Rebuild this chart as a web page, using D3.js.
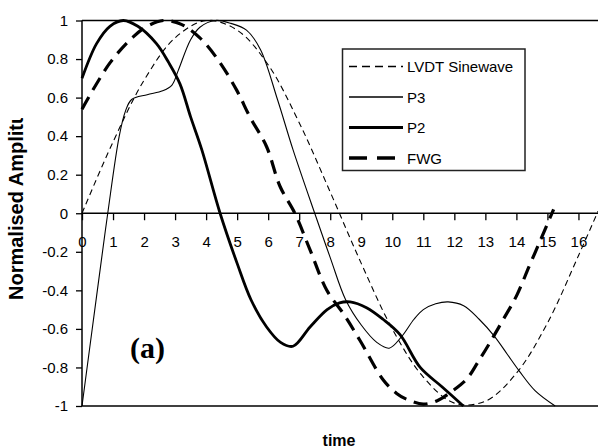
<!DOCTYPE html>
<html>
<head>
<meta charset="utf-8">
<script src="https://cdn.jsdelivr.net/npm/d3@7"></script>
<style>
  body { margin: 0; background: #fff; }
  svg { display: block; font-family: "Liberation Sans", Arial, sans-serif; }
</style>
</head>
<body>
<div id="chart"></div>
<script>
// values
var xTicks = [0, 1, 2, 3, 4, 5, 6, 7, 8, 9, 10, 11, 12, 13, 14, 15, 16];
var yTicks = [-1, -0.8, -0.6, -0.4, -0.2, 0, 0.2, 0.4, 0.6, 0.8, 1];
var seriesNames = ["LVDT Sinewave", "P3", "P2", "FWG"];

var lvdtTime = [0, 1, 2, 3, 4, 5, 6, 7, 8, 9, 10, 11, 12, 13, 14, 15, 16, 16.63];
var lvdtValue = [0, 0.37, 0.69, 0.91, 1.0, 0.95, 0.77, 0.47, 0.11, -0.26, -0.6, -0.85, -0.985, -0.975, -0.83, -0.57, -0.22, 0.01];

var p3Time = [0, 0.47, 0.83, 1.2, 1.4, 1.6, 2.1, 2.6, 2.9, 3.1, 3.5, 3.8, 4.3, 4.8, 5.3, 5.75, 6.3, 6.8, 7.5, 8.0, 8.5, 9.0, 9.5, 9.9, 10.3, 10.7, 11.0, 11.4, 11.8, 12.3, 12.8, 13.3, 13.7, 14.1, 14.6, 15.25];
var p3Value = [-1, -0.43, 0, 0.4, 0.53, 0.59, 0.615, 0.635, 0.665, 0.74, 0.9, 0.965, 1.0, 0.985, 0.95, 0.85, 0.59, 0.33, 0, -0.23, -0.45, -0.58, -0.67, -0.7, -0.64, -0.55, -0.5, -0.47, -0.46, -0.48, -0.55, -0.64, -0.73, -0.82, -0.92, -1.0];

var p2Time = [0, 0.47, 0.9, 1.33, 1.8, 2.4, 2.8, 3.16, 3.5, 3.86, 4.45, 5.0, 5.45, 5.95, 6.4, 6.8, 7.35, 7.9, 8.3, 8.64, 9.17, 9.7, 10.25, 10.9, 11.6, 12.29];
var p2Value = [0.7, 0.88, 0.97, 1.0, 0.97, 0.88, 0.78, 0.67, 0.5, 0.33, 0, -0.26, -0.45, -0.59, -0.67, -0.69, -0.59, -0.5, -0.465, -0.46, -0.49, -0.55, -0.63, -0.8, -0.9, -1.0];

var fwgTime = [0, 0.9, 1.65, 2.1, 2.62, 3.2, 3.8, 4.39, 4.98, 5.41, 5.95, 6.38, 6.86, 7.35, 7.89, 8.42, 8.96, 9.71, 10.14, 10.46, 11.0, 11.48, 11.91, 12.4, 12.77, 13.15, 13.58, 14.0, 14.4, 14.8, 15.2];
var fwgValue = [0.54, 0.78, 0.915, 0.97, 1.0, 0.98, 0.91, 0.795, 0.64, 0.5, 0.345, 0.14, 0, -0.19, -0.4, -0.52, -0.66, -0.865, -0.935, -0.965, -0.99, -0.97, -0.925, -0.86, -0.77, -0.67, -0.55, -0.43, -0.28, -0.13, 0.02];

var width = 598, height = 448;
var plotLeft = 82, plotRight = 598, plotTop = 20.5, plotBottom = 406;

var svg = d3.select("#chart").append("svg")
  .attr("width", width)
  .attr("height", height);

var x = d3.scaleLinear().domain([0, 16.63]).range([plotLeft, plotRight]);
var y = d3.scaleLinear().domain([-1, 1]).range([plotBottom, plotTop]);

//plot area top and bottom edges
svg.append("line")
  .attr("x1", plotLeft).attr("x2", plotRight)
  .attr("y1", y(1)).attr("y2", y(1))
  .attr("stroke", "#000").attr("stroke-width", 1.5);
svg.append("line")
  .attr("x1", plotLeft).attr("x2", plotRight)
  .attr("y1", y(-1)).attr("y2", y(-1))
  .attr("stroke", "#000").attr("stroke-width", 1.5);

//y axis on the left
var yAxis = svg.append("g")
  .attr("transform", "translate(" + plotLeft + ",0)")
  .call(d3.axisLeft(y).tickValues(yTicks).tickSize(6).tickPadding(8)
    .tickFormat(function(d) { return String(Math.round(d * 10) / 10); }));

//x axis through zero
var xAxis = svg.append("g")
  .attr("transform", "translate(0," + y(0) + ")")
  .call(d3.axisBottom(x).tickValues(xTicks).tickSize(7).tickPadding(16)
    .tickFormat(d3.format("d")));

[yAxis, xAxis].forEach(function(ax) {
  ax.select(".domain").attr("stroke", "#000").attr("stroke-width", 1.5);
  ax.selectAll(".tick line").attr("stroke", "#000").attr("stroke-width", 1.3);
  ax.selectAll(".tick text")
    .attr("fill", "#000")
    .style("font-size", "15px")
    .style("font-family", "'Liberation Sans', Arial, sans-serif");
});
//plain domain lines without outer tick stubs
xAxis.select(".domain").attr("d", "M" + plotLeft + ",0H" + plotRight);
yAxis.select(".domain").attr("d", "M0," + plotTop + "V" + plotBottom);

var styles = [
  { width: 1.1, dash: "6,4" },
  { width: 1.1, dash: null },
  { width: 2.8, dash: null },
  { width: 3.2, dash: "14,8" }
];
var allTimes = [lvdtTime, p3Time, p2Time, fwgTime];
var allValues = [lvdtValue, p3Value, p2Value, fwgValue];

var line = d3.line()
  .x(function(d) { return x(d[0]); })
  .y(function(d) { return y(d[1]); })
  .curve(d3.curveCatmullRom.alpha(0.5));

for (var s = 0; s < seriesNames.length; s++) {
  var pts = allTimes[s].map(function(t, i) { return [t, allValues[s][i]]; });
  svg.append("path")
    .datum(pts)
    .attr("d", line)
    .attr("fill", "none")
    .attr("stroke", "#000")
    .attr("stroke-width", styles[s].width)
    .attr("stroke-dasharray", styles[s].dash);
}

//legend
var legend = svg.append("g");
legend.append("rect")
  .attr("x", 342.5).attr("y", 49)
  .attr("width", 182.5).attr("height", 121.5)
  .attr("fill", "#fff")
  .attr("stroke", "#222").attr("stroke-width", 1.5);

seriesNames.forEach(function(name, i) {
  var cy = 66.5 + i * 30.5;
  legend.append("line")
    .attr("x1", 349).attr("x2", 403)
    .attr("y1", cy).attr("y2", cy)
    .attr("stroke", "#000")
    .attr("stroke-width", i == 3 ? 3.6 : (i == 2 ? 3 : 1.3))
    .attr("stroke-dasharray", i == 0 ? "8,5" : (i == 3 ? "18,10" : null));
  legend.append("text")
    .attr("x", 407).attr("y", cy + 5.5)
    .style("font-size", "15px")
    .text(name);
});

//axis titles
svg.append("text")
  .attr("x", 339).attr("y", 446)
  .attr("text-anchor", "middle")
  .style("font-size", "16px")
  .style("font-weight", "bold")
  .text("time");

//the y title is cut off at the top in the original
svg.append("clipPath").attr("id", "ytitleClip")
  .append("rect").attr("x", 0).attr("y", 118).attr("width", 60).attr("height", 330);

svg.append("g")
  .attr("clip-path", "url(#ytitleClip)")
  .append("text")
  .attr("transform", "translate(23.3,300) rotate(-90)")
  .style("font-size", "20px")
  .style("font-weight", "bold")
  .text("Normalised Amplitude");

//panel label
svg.append("text")
  .attr("x", 130).attr("y", 358)
  .style("font-family", "'Liberation Serif', 'Times New Roman', serif")
  .style("font-size", "30px")
  .style("font-weight", "bold")
  .text("(a)");
</script>
</body>
</html>
